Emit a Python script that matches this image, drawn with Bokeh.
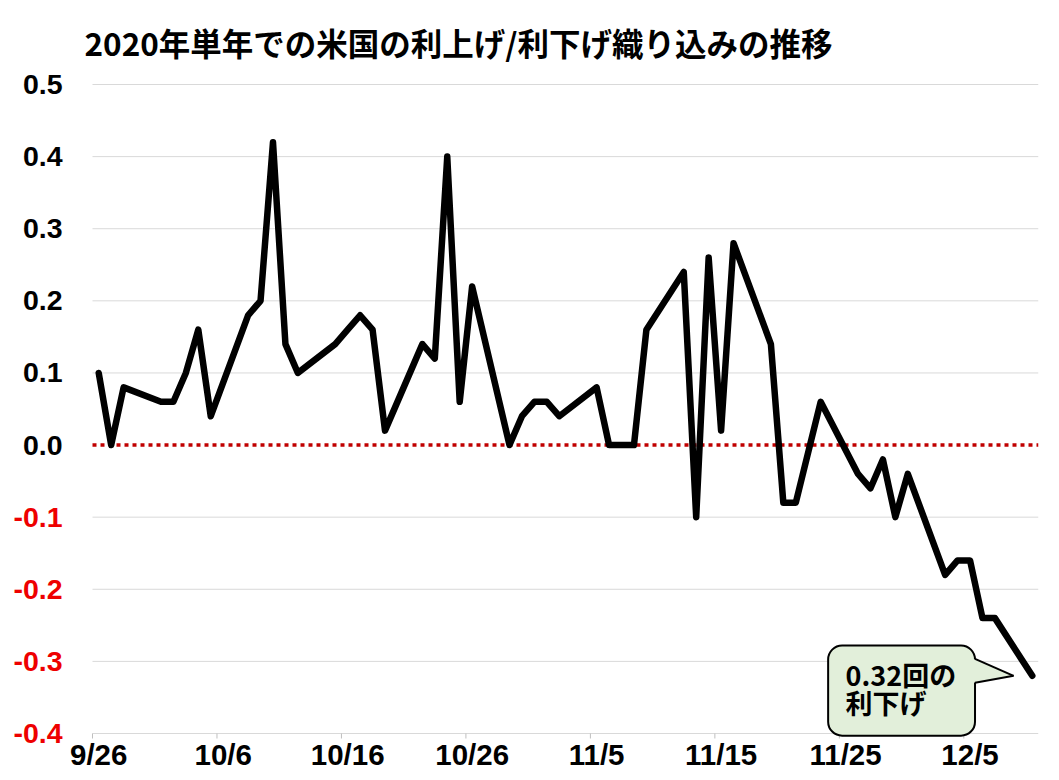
import pandas as pd
from bokeh.plotting import figure
from bokeh.models import Range1d, ColumnDataSource
from bokeh.core.properties import value
from bokeh.embed import file_html
from bokeh.resources import INLINE

# ---- data ----
dates = ["2018-09-26", "2018-09-27", "2018-09-28",
         "2018-10-01", "2018-10-02", "2018-10-03", "2018-10-04", "2018-10-05",
         "2018-10-08", "2018-10-09", "2018-10-10", "2018-10-11", "2018-10-12",
         "2018-10-15", "2018-10-16", "2018-10-17", "2018-10-18", "2018-10-19",
         "2018-10-22", "2018-10-23", "2018-10-24", "2018-10-25", "2018-10-26",
         "2018-10-29", "2018-10-30", "2018-10-31", "2018-11-01", "2018-11-02",
         "2018-11-05", "2018-11-06", "2018-11-07", "2018-11-08", "2018-11-09",
         "2018-11-12", "2018-11-13", "2018-11-14", "2018-11-15", "2018-11-16",
         "2018-11-19", "2018-11-20", "2018-11-21", "2018-11-23",
         "2018-11-26", "2018-11-27", "2018-11-28", "2018-11-29", "2018-11-30",
         "2018-12-03", "2018-12-04", "2018-12-05", "2018-12-06", "2018-12-07",
         "2018-12-10"]
values = [0.10, 0.00, 0.08,
          0.06, 0.06, 0.10, 0.16, 0.04,
          0.18, 0.20, 0.42, 0.14, 0.10,
          0.14, 0.16, 0.18, 0.16, 0.02,
          0.14, 0.12, 0.40, 0.06, 0.22,
          0.00, 0.04, 0.06, 0.06, 0.04,
          0.08, 0.00, 0.00, 0.00, 0.16,
          0.24, -0.10, 0.26, 0.02, 0.28,
          0.14, -0.08, -0.08, 0.06,
          -0.04, -0.06, -0.02, -0.10, -0.04,
          -0.18, -0.16, -0.16, -0.24, -0.24,
          -0.32]
x_tick_dates = ["2018-09-26", "2018-10-06", "2018-10-16", "2018-10-26",
                "2018-11-05", "2018-11-15", "2018-11-25", "2018-12-05"]
x_tick_labels = ["9/26", "10/6", "10/16", "10/26", "11/5", "11/15", "11/25", "12/5"]
y_ticks = [-0.4, -0.3, -0.2, -0.1, 0.0, 0.1, 0.2, 0.3, 0.4, 0.5]
y_tick_labels = ["-0.4", "-0.3", "-0.2", "-0.1", "0.0", "0.1", "0.2", "0.3", "0.4", "0.5"]
title_text = "2020年単年での米国の利上げ/利下げ織り込みの推移"
callout_lines = ["0.32回の", "利下げ"]

# ---- styles / layout ----
JP = "Noto Sans CJK JP"
NUM = "'Liberation Sans Narrow', 'Liberation Sans', sans-serif"
RED = "#EE0000"
GRID = "#D9D9D9"
BOX_FILL = "#E2EFDA"
W, H = 1051, 772
BL, BR, BT, BB = 4, 13, 70, 4
GUTTER_PX = 88                     # room for y tick labels, left of the grid
PLOT_PX = W - BL - BR - GUTTER_PX  # width of the gridded area
GRID_PY = 649                      # height of the gridded area
EXT_TOP = 14                       # frame room above the top gridline
EXT_BOT = H - BT - BB - GRID_PY - EXT_TOP   # room below for x tick labels

d = pd.to_datetime(dates)
origin = d[0]
xs = [(t - origin).days for t in d]
xt = [(pd.Timestamp(t) - origin).days for t in x_tick_dates]

x0, x1 = xs[0] - 0.5, xs[-1] + 0.5
y0, y1 = y_ticks[0], y_ticks[-1]
upx = (x1 - x0) / PLOT_PX
upy = (y1 - y0) / GRID_PY
p = figure(width=W, height=H, output_backend="svg", toolbar_location=None,
           x_range=Range1d(x0 - GUTTER_PX * upx, x1),
           y_range=Range1d(y0 - EXT_BOT * upy, y1 + EXT_TOP * upy),
           min_border_left=BL, min_border_right=BR, min_border_top=BT, min_border_bottom=BB)
p.outline_line_color = None
p.background_fill_color = "white"
p.border_fill_color = "white"
p.xaxis.visible = False
p.yaxis.visible = False
p.xgrid.visible = False
p.ygrid.visible = False

p.title.text = title_text
p.title.text_font = JP
p.title.text_font_size = "31.5px"
p.title.text_font_style = "bold"
p.title.text_color = "black"
p.title.align = "left"
p.title.offset = 80
p.title.standoff = 11

# horizontal gridlines (the zero line is drawn dotted instead)
g = [t for t in y_ticks if t != 0]
p.segment(x0=[x0] * len(g), x1=[x1] * len(g), y0=g, y1=g, line_color=GRID, line_width=1)
# small tick marks under the bottom line, between date slots
p.segment(x0=[t - 0.5 for t in xt], x1=[t - 0.5 for t in xt], y0=[y0] * len(xt),
          y1=[y0 - 5 * upy] * len(xt), line_color="#BFBFBF", line_width=1)
p.segment(x0=[x0], x1=[x1], y0=[0], y1=[0], line_color="#C00000", line_width=3.5,
          line_dash="4 4")

# y tick labels (negatives in red)
ysrc = ColumnDataSource(dict(x=[x0] * len(y_ticks), y=y_ticks, t=y_tick_labels,
                             c=[RED if t < 0 else "black" for t in y_ticks]))
p.text(x="x", y="y", text="t", source=ysrc, x_offset=-30, text_align="right",
       text_baseline="middle", text_font=value(NUM), text_font_size="28.5px",
       text_font_style="bold", text_color="c")

# x tick labels
xsrc = ColumnDataSource(dict(x=xt, y=[y0] * len(xt), t=x_tick_labels))
p.text(x="x", y="y", text="t", source=xsrc, y_offset=21, text_align="center",
       text_baseline="middle", text_font=value(NUM), text_font_size="29.5px",
       text_font_style="bold", text_color="black")

# data line
p.line(xs, values, line_color="black", line_width=6.5, line_join="round", line_cap="round")

# callout anchored to the last point
xe, ye = xs[-1], values[-1]
bl, br = xe - 16.4, xe - 4.6
bt, bb = ye + 0.042, y0 - 0.003
p.quad(left=[bl], right=[br], top=[bt], bottom=[bb], fill_color=BOX_FILL,
       line_color="black", line_width=2, border_radius=14)
p.patch([br - 0.15, xe - 1.5, br - 0.15], [ye + 0.0236, ye, ye - 0.0095],
        fill_color=BOX_FILL, line_color=None)
p.multi_line([[br, xe - 1.5], [br, xe - 1.5]], [[ye + 0.0236, ye], [ye - 0.0095, ye]],
             line_color="black", line_width=2)
src = ColumnDataSource(dict(x=[bl + 1.4, bl + 1.4], y=[ye + 0.0015, ye - 0.0375], t=callout_lines))
p.text(x="x", y="y", text="t", source=src, text_font=value(JP), text_font_size="27px",
       text_font_style="bold", text_color="black", text_align="left", text_baseline="alphabetic")

open("out.html", "w").write(file_html(p, INLINE))
